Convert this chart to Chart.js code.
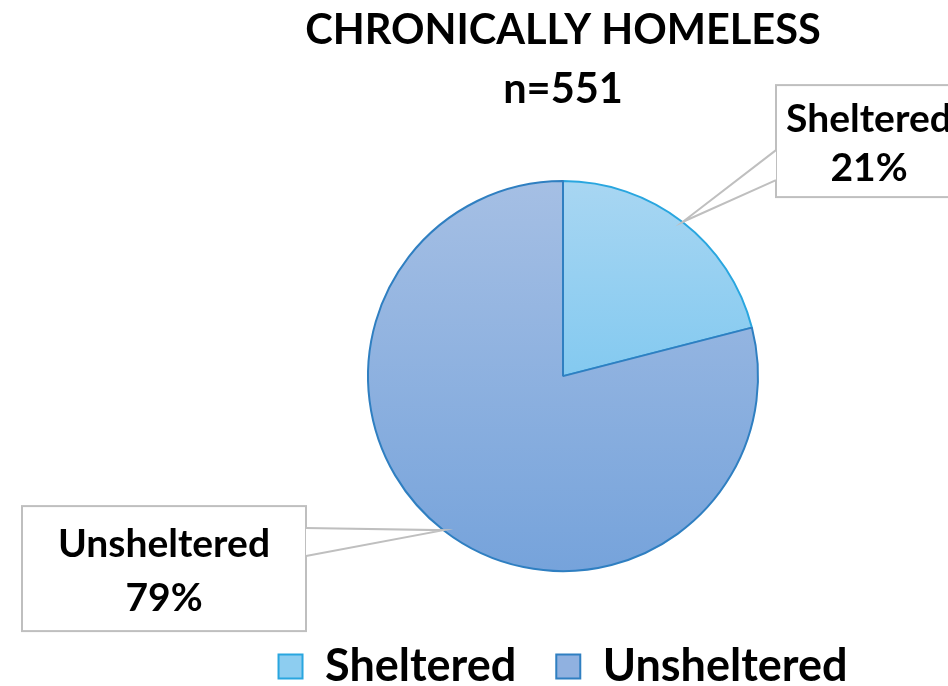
<!DOCTYPE html>
<html>
<head>
<meta charset="utf-8">
<script src="https://cdn.jsdelivr.net/npm/chart.js@4/dist/chart.umd.min.js"></script>
<style>
  html, body { margin: 0; padding: 0; background: #fff; }
  #wrap { width: 948px; height: 686px; }
</style>
</head>
<body>
<div id="wrap"><canvas id="myChart" width="948" height="686"></canvas></div>
<script>
const categories = ['Sheltered', 'Unsheltered'];
const percentValues = [21, 79];
const titleLines = ['CHRONICALLY HOMELESS', 'n=551'];

const FONT = 'Lato';
const PIE_RADIUS = 195;
const topColors = ['#a8d6f2', '#a5bfe4'];
const bottomColors = ['#5fbdee', '#76a3db'];
const borderColors = ['#29a6df', '#2f7fc1'];
const legendFills = ['#8dcdf0', '#90b1e0'];

function sliceGradient(context) {
  const chart = context.chart;
  const i = context.dataIndex;
  const area = chart.chartArea;
  if (!area) return legendFills[i];
  const cy = (area.top + area.bottom) / 2;
  const g = chart.ctx.createLinearGradient(0, cy - PIE_RADIUS, 0, cy + PIE_RADIUS);
  g.addColorStop(0, topColors[i]);
  g.addColorStop(1, bottomColors[i]);
  return g;
}

// callout boxes, placed relative to the pie centre
const callouts = [
  { box: [213, -291, 186, 112], joins: [-226, -196], side: 'left' },
  { box: [-541, 130, 284, 125], joins: [152, 180], side: 'right' },
];

const calloutPlugin = {
  id: 'callouts',
  afterDatasetsDraw(chart) {
    const ctx = chart.ctx;
    const meta = chart.getDatasetMeta(0);
    meta.data.forEach((arc, i) => {
      const c = callouts[i];
      const cx = arc.x, cy = arc.y;
      const mid = (arc.startAngle + arc.endAngle) / 2;
      const ax = cx + Math.cos(mid) * arc.outerRadius;
      const ay = cy + Math.sin(mid) * arc.outerRadius;
      const bx = cx + c.box[0], by = cy + c.box[1], bw = c.box[2], bh = c.box[3];
      const ex = c.side === 'left' ? bx : bx + bw;
      ctx.save();
      ctx.fillStyle = '#ffffff';
      ctx.fillRect(bx, by, bw, bh);
      ctx.strokeStyle = '#bfbfbf';
      ctx.lineWidth = 2;
      ctx.strokeRect(bx, by, bw, bh);
      ctx.beginPath();
      ctx.moveTo(ex, cy + c.joins[0]);
      ctx.lineTo(ax, ay);
      ctx.lineTo(ex, cy + c.joins[1]);
      ctx.closePath();
      ctx.fill();
      ctx.beginPath();
      ctx.moveTo(ex, cy + c.joins[0]);
      ctx.lineTo(ax, ay);
      ctx.lineTo(ex, cy + c.joins[1]);
      ctx.stroke();
      ctx.fillStyle = '#000';
      ctx.font = 'bold 39px ' + FONT;
      ctx.textAlign = 'center';
      ctx.textBaseline = 'middle';
      ctx.fillText(categories[i], bx + bw / 2, by + bh * 0.31);
      ctx.fillText(percentValues[i] + '%', bx + bw / 2, by + bh * 0.74);
      ctx.restore();
    });
  },
};

const chart = new Chart(document.getElementById('myChart'), {
  type: 'pie',
  data: {
    labels: categories,
    datasets: [
      {
        data: percentValues,
        backgroundColor: sliceGradient,
        borderColor: borderColors,
        borderWidth: 2,
        radius: PIE_RADIUS,
      },
    ],
  },
  options: {
    responsive: false,
    animation: false,
    layout: { padding: { left: 178, right: 0, top: 2, bottom: -13 } },
    plugins: {
      tooltip: { enabled: false },
      title: {
        display: true,
        text: titleLines,
        color: '#000',
        font: { family: FONT, size: 41.5, weight: 'bold', lineHeight: 1.4 },
        padding: { top: 0, bottom: 30 },
      },
      legend: {
        position: 'bottom',
        labels: {
          color: '#000',
          font: { family: FONT, size: 45, weight: 'bold' },
          boxWidth: 24,
          boxHeight: 24,
          padding: 40,
          generateLabels: () =>
            categories.map((name, i) => ({
              text: name,
              fillStyle: legendFills[i],
              strokeStyle: borderColors[i],
              lineWidth: 2,
              index: i,
              hidden: false,
            })),
        },
      },
    },
  },
  plugins: [calloutPlugin],
});
</script>
</body>
</html>
